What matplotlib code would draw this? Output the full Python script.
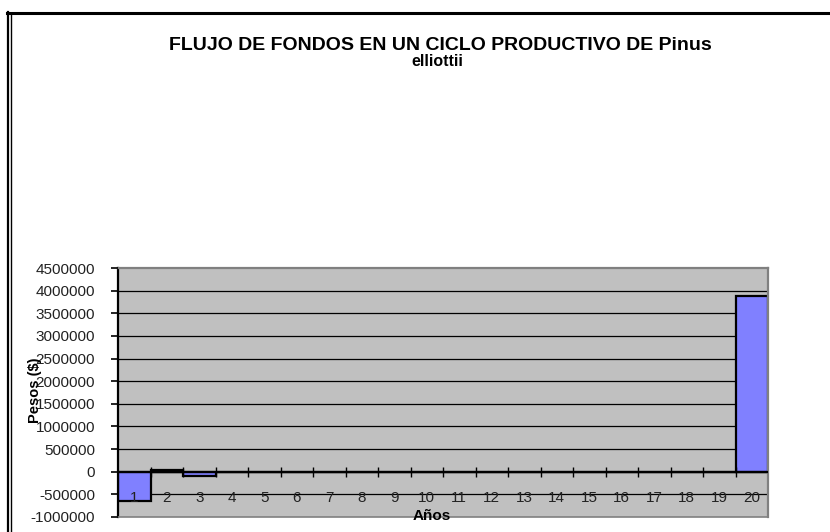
import matplotlib
matplotlib.use("Agg")
import matplotlib.pyplot as plt
from matplotlib.lines import Line2D
import numpy as np

plt.rcParams['font.family'] = ['Liberation Sans', 'DejaVu Sans']

# Data
years = list(range(1, 21))
year_labels = [str(y) for y in years]
cash_flow = [-650000, 40000, -100000, 0, 0, 0, 0, 0, 0, 0,
             0, 0, 0, 0, 0, 0, 0, 0, 0, 3880000]
y_ticks = list(range(-1000000, 4500001, 500000))
title_line1 = "FLUJO DE FONDOS EN UN CICLO PRODUCTIVO DE Pinus"
title_line2 = "elliottii"

W, H = 830, 532
fig = plt.figure(figsize=(W / 100, H / 100), dpi=100)

def fx(px):
    return px / W

def fy(py):
    return 1 - py / H

ax_left, ax_right, ax_top, ax_bottom = 118, 768, 268, 517
ax = fig.add_axes([fx(ax_left), fy(ax_bottom), (ax_right - ax_left) / W,
                   (ax_bottom - ax_top) / H])
ax.set_facecolor('#C0C0C0')
ax.set_axisbelow(False)

ax.set_xlim(0.5, 20.5)
ax.set_ylim(-1000000, 4500000)

# gridlines
for v in y_ticks[1:-1]:
    ax.axhline(v, color='black', lw=0.9, zorder=1)

ax.bar(years, cash_flow, width=1.0, color='#8080FF', edgecolor='black',
       linewidth=1.6, zorder=2)

# category axis line at zero
ax.axhline(0, color='black', lw=1.6, zorder=4)
bounds = np.arange(1.5, 20.5, 1.0)
ax.plot(bounds, np.zeros_like(bounds), linestyle='none', marker='|',
        markersize=7, markeredgewidth=1.0, color='black', zorder=4,
        clip_on=False)

# spines
ax.spines['left'].set_color('black')
ax.spines['left'].set_linewidth(1.6)
for s in ['top', 'right']:
    ax.spines[s].set_color('#808080')
    ax.spines[s].set_linewidth(1.6)
ax.spines['bottom'].set_color('#808080')
ax.spines['bottom'].set_linewidth(1.2)

ax.set_yticks(y_ticks)
ax.set_yticklabels([str(v) for v in y_ticks])
ax.tick_params(axis='y', direction='out', length=5, width=1.2, color='black',
               labelsize=11, labelcolor='#222222', pad=11.5)

ax.set_xticks(years)
ax.set_xticklabels(year_labels)
ax.tick_params(axis='x', length=0, labelsize=11, labelcolor='#222222',
               pad=-19)

# axis titles
fig.text(fx(432), fy(516), "Años", ha='center', va='center', fontsize=11,
         fontweight='bold', color='black')
fig.text(fx(35), fy(390), "Pesos ($)", ha='center', va='center', rotation=90,
         fontsize=10.5, fontweight='bold', color='black')

# chart title
fig.text(fx(440), fy(50), title_line1, ha='center', va='baseline',
         fontsize=14, fontweight='bold', color='black')
fig.text(fx(437), fy(66), title_line2, ha='center', va='baseline',
         fontsize=11.5, fontweight='bold', color='black')

# outer border
fig.add_artist(Line2D([fx(7), fx(830)], [fy(13), fy(13)], color='black',
                      lw=2.2, transform=fig.transFigure))
fig.add_artist(Line2D([fx(8), fx(8)], [fy(12), fy(532)], color='black',
                      lw=1.6, transform=fig.transFigure))
fig.add_artist(Line2D([fx(11), fx(11)], [fy(14), fy(532)], color='black',
                      lw=1.0, transform=fig.transFigure))

fig.savefig("out.png", dpi=100)
